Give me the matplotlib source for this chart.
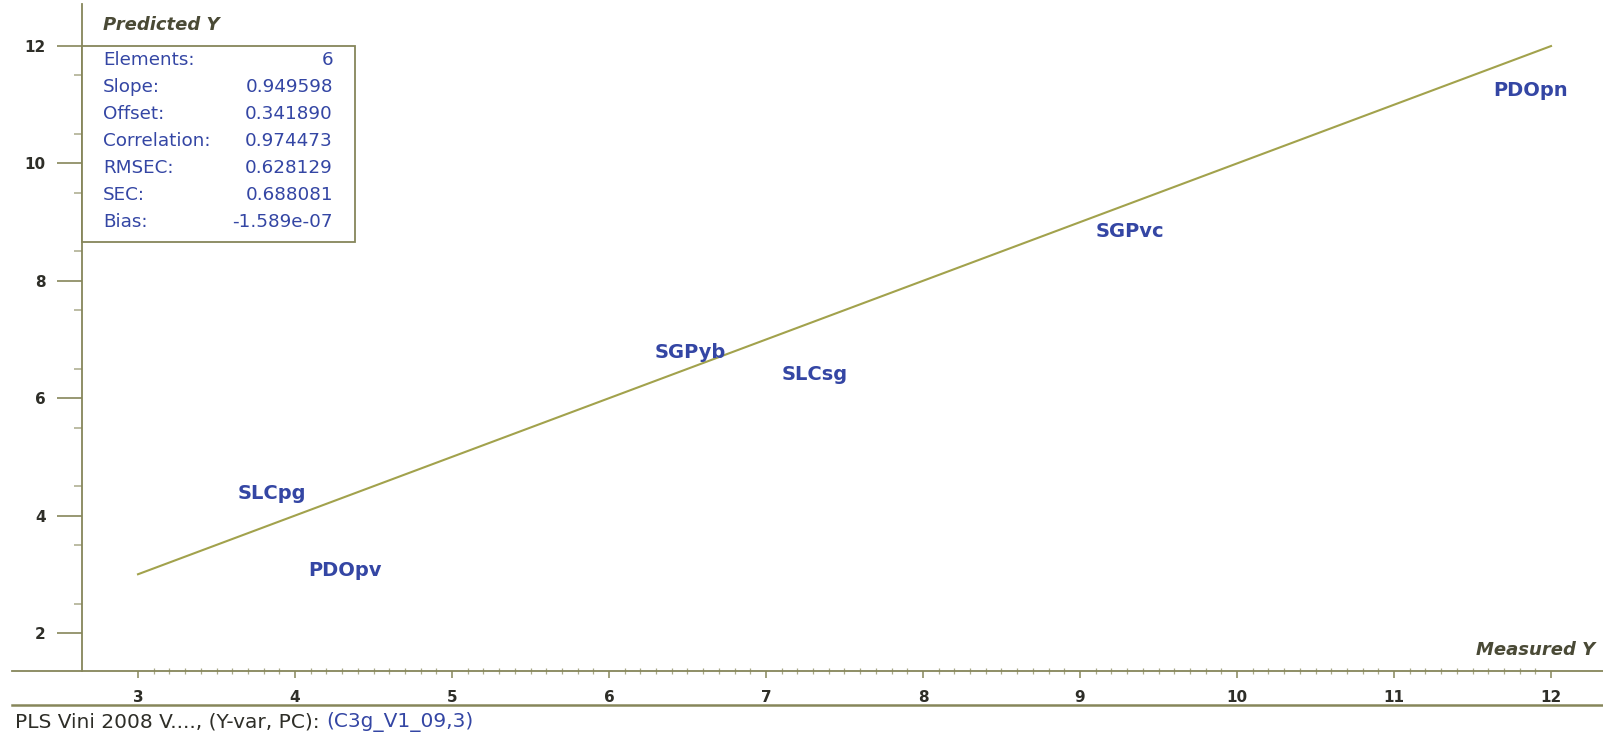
import matplotlib.pyplot as plt
from matplotlib.lines import Line2D
from matplotlib.ticker import FixedLocator

# Samples: measured vs predicted Y
samples = ["SLCpg", "PDOpv", "SGPyb", "SLCsg", "SGPvc", "PDOpn"]
measured = [3.85, 4.32, 6.52, 7.31, 9.32, 11.87]
predicted = [4.37, 3.06, 6.78, 6.40, 8.84, 11.25]

# Target line end points
target = [3, 12]

# Regression statistics
stat_names = ["Elements:", "Slope:", "Offset:", "Correlation:", "RMSEC:", "SEC:", "Bias:"]
stat_values = ["6", "0.949598", "0.341890", "0.974473", "0.628129", "0.688081", "-1.589e-07"]

x_major = [3, 4, 5, 6, 7, 8, 9, 10, 11, 12]
y_major = [2, 4, 6, 8, 10, 12]

W, H = 1603, 737
AXIS = "#86865a"
MINOR = "#a9a98a"
LINE = "#a2a24c"
BLUE = "#3446a4"
DARK = "#2e2e28"
TITLE = "#4a4a36"

fig = plt.figure(figsize=(W / 100, H / 100), dpi=100)
fig.patch.set_facecolor("white")

# axes spans from the start of the bottom rule to the right edge
x0_px, x1_px = 12, W
y_top_px, y_bot_px = 4, 671
ax = fig.add_axes([x0_px / W, 1 - y_bot_px / H, (x1_px - x0_px) / W, (y_bot_px - y_top_px) / H])

px_x = 157.0   # pixels per x unit
px_y = 58.6    # pixels per y unit
ax.set_xlim(3 - (138 - x0_px) / px_x, 3 + (x1_px - 138) / px_x)
ax.set_ylim(2 - (y_bot_px - 633) / px_y, 12 + (46 - y_top_px) / px_y)

for s in ["top", "right"]:
    ax.spines[s].set_visible(False)
ax.spines["left"].set_position(("data", 3 - (138 - 82) / px_x))
for s in ["left", "bottom"]:
    ax.spines[s].set_color(AXIS)
    ax.spines[s].set_linewidth(1.3)

ax.set_xticks(x_major)
ax.set_yticks(y_major)
ax.xaxis.set_minor_locator(FixedLocator([3 + i * 0.1 for i in range(91) if i % 10]))
ax.yaxis.set_minor_locator(FixedLocator([2.5 + i for i in range(10)]))

ax.tick_params(axis="x", which="major", direction="out", length=5, width=1.1, color=AXIS,
               labelsize=11, labelcolor=DARK, pad=9)
ax.tick_params(axis="x", which="minor", direction="inout", length=5, width=0.9, color=MINOR)
ax.tick_params(axis="y", which="major", direction="out", length=18, width=1.2, color=AXIS,
               labelsize=11, labelcolor=DARK, pad=8)
ax.tick_params(axis="y", which="minor", direction="out", length=6, width=1.1, color=MINOR)
for lbl in ax.get_xticklabels() + ax.get_yticklabels():
    lbl.set_fontweight("bold")

# target line
ax.plot(target, target, color=LINE, lw=1.5, zorder=2)

# sample labels
for name, mx, py in zip(samples, measured, predicted):
    ax.text(mx, py, name, color=BLUE, fontsize=14, fontweight="bold",
            ha="center", va="center", zorder=3)

# axis titles
fig.text(103 / W, 1 - 25 / H, "Predicted Y", fontsize=13, style="italic", fontweight="bold",
         color=TITLE, ha="left", va="center")
fig.text(1595 / W, 1 - 650 / H, "Measured Y", fontsize=13, style="italic", fontweight="bold",
         color=TITLE, ha="right", va="center")

# statistics box
bx0, by0, bx1, by1 = 82, 46, 355, 242
fig.patches.append(plt.Rectangle((bx0 / W, 1 - by1 / H), (bx1 - bx0) / W, (by1 - by0) / H,
                                 transform=fig.transFigure, facecolor="white",
                                 edgecolor=AXIS, lw=1.3, zorder=5))
for i, (n, v) in enumerate(zip(stat_names, stat_values)):
    yy = 1 - (60 + i * 27) / H
    fig.text(103 / W, yy, n, color=BLUE, fontsize=13.2, ha="left", va="center", zorder=6)
    fig.text(333 / W, yy, v, color=BLUE, fontsize=13.2, ha="right", va="center", zorder=6)

# footer rule and caption
fig.add_artist(Line2D([x0_px / W, 1], [1 - 705 / H, 1 - 705 / H], transform=fig.transFigure,
                      color=AXIS, lw=1.8))
cap = fig.text(15 / W, 1 - 722 / H, "PLS Vini 2008 V...., (Y-var, PC): ", fontsize=14.5,
               color=DARK, ha="left", va="center")
fig.canvas.draw()
bb = cap.get_window_extent()
fig.text(bb.x1 / W, 1 - 722 / H, "(C3g_V1_09,3)", fontsize=14.5, color=BLUE,
         ha="left", va="center")

fig.savefig("out.png", dpi=100)
